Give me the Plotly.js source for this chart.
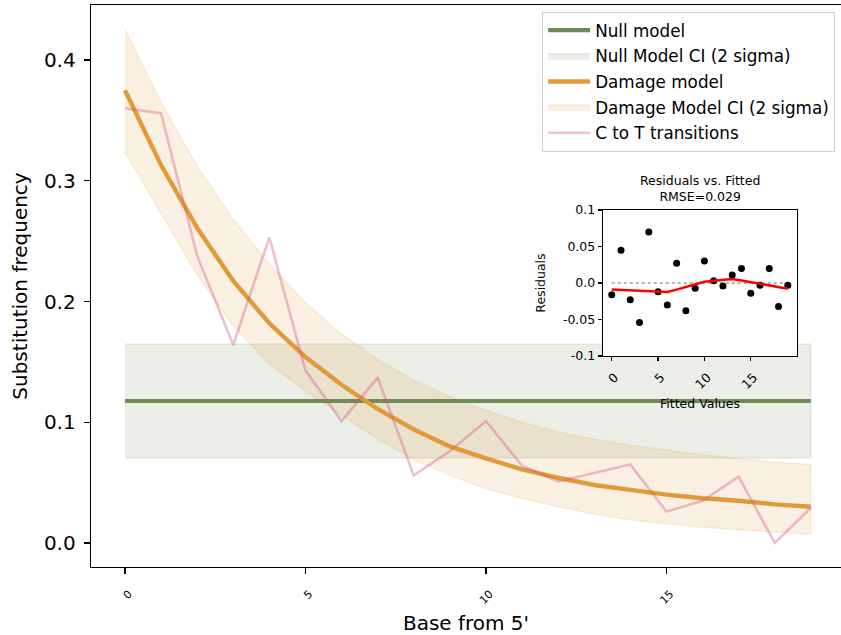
<!DOCTYPE html>
<html>
<head>
<meta charset="utf-8">
<script src="https://cdn.plot.ly/plotly-3.0.1.min.js"></script>
<style>html,body{margin:0;padding:0;background:#fff}</style>
</head>
<body>
<div id="chart" style="width:841px;height:635px"></div>
<script>
// ---- data ----
const positions = [0,1,2,3,4,5,6,7,8,9,10,11,12,13,14,15,16,17,18,19];
const nullMean = 0.1176;
const nullUpperValue = 0.1648;
const nullLowerValue = 0.0704;
const damageModel = [0.375,0.313,0.261,0.217,0.182,0.154,0.131,0.111,0.094,0.080,0.070,0.061,0.054,0.048,0.044,0.040,0.037,0.035,0.032,0.030];
const damageUpper = [0.425,0.365,0.312,0.268,0.231,0.199,0.173,0.152,0.135,0.121,0.110,0.100,0.092,0.086,0.081,0.077,0.073,0.070,0.067,0.065];
const damageLower = [0.324,0.273,0.222,0.180,0.148,0.126,0.106,0.086,0.069,0.056,0.045,0.037,0.030,0.024,0.019,0.016,0.013,0.011,0.009,0.007];
const cToT = [0.360,0.356,0.238,0.164,0.253,0.143,0.101,0.137,0.056,0.076,0.101,0.064,0.051,0.058,0.065,0.026,0.035,0.055,0.000,0.029];
const residuals = [-0.016,0.045,-0.023,-0.054,0.070,-0.012,-0.030,0.027,-0.038,-0.007,0.030,0.003,-0.004,0.011,0.020,-0.014,-0.003,0.020,-0.032,-0.003];
const lowess = [-0.009,-0.0095,-0.010,-0.0105,-0.011,-0.0115,-0.0124,-0.009,-0.0053,-0.0018,0.0018,0.003,0.0045,0.0055,0.0035,0.0013,-0.001,-0.0035,-0.0057,-0.0078];
const zeroRef = positions.map(() => 0);
const mainTicks = [0,5,10,15];
const mainYTicks = [0.0,0.1,0.2,0.3,0.4];
const insetYTicks = [-0.1,-0.05,0,0.05,0.1];
const insetYTickText = ['-0.1','-0.05','0.0','0.05','0.1'];

// ---- styles ----
const FONT = 'DejaVu Sans, Verdana, sans-serif';
const GREEN = '#6e8a52';
const ORANGE = '#e09a38';
const PINK = 'rgba(210,90,130,0.38)';

const nullMeanArr = positions.map(() => nullMean);
const nullUp = positions.map(() => nullUpperValue);
const nullLo = positions.map(() => nullLowerValue);
const revPos = positions.slice().reverse();

const traces = [
  {x: positions.concat(revPos), y: nullUp.concat(nullLo.slice().reverse()),
   type:'scatter', mode:'lines', fill:'toself', fillcolor:'rgba(110,138,82,0.14)',
   line:{color:'rgba(110,138,82,0.14)', width:1.5}, name:'Null Model CI (2 sigma)',
   legendrank:2, legendgroup:'b', hoverinfo:'skip'},
  {x: positions.concat(revPos), y: damageUpper.concat(damageLower.slice().reverse()),
   type:'scatter', mode:'lines', fill:'toself', fillcolor:'rgba(224,154,56,0.15)',
   line:{color:'rgba(224,154,56,0.15)', width:1.5}, name:'Damage Model CI (2 sigma)',
   legendrank:4, legendgroup:'d', hoverinfo:'skip'},
  {x: positions, y: nullMeanArr, type:'scatter', mode:'lines',
   line:{color:GREEN, width:4.2}, name:'Null model', legendrank:1, legendgroup:'a'},
  {x: positions, y: damageModel, type:'scatter', mode:'lines',
   line:{color:ORANGE, width:4.4}, name:'Damage model', legendrank:3, legendgroup:'c'},
  {x: positions, y: cToT, type:'scatter', mode:'lines',
   line:{color:PINK, width:2.6}, name:'C to T transitions', legendrank:5, legendgroup:'e'},
  // inset
  {x: positions, y: zeroRef, xaxis:'x2', yaxis:'y2', type:'scatter', mode:'lines',
   line:{color:'#b5b5b5', width:2, dash:'dot'}, showlegend:false},
  {x: positions, y: residuals, xaxis:'x2', yaxis:'y2', type:'scatter', mode:'markers',
   marker:{color:'#000', size:7}, showlegend:false},
  {x: positions, y: lowess, xaxis:'x2', yaxis:'y2', type:'scatter', mode:'lines',
   line:{color:'#ff0000', width:2.5}, showlegend:false}
];

const mainXRange = [-0.94, 19.836];
const mainYRange = [-0.0199, 0.4456];
const insetXRange = [-0.94, 19.99];
const insetYRange = [-0.1, 0.1];

const layout = {
  width:841, height:635,
  margin:{l:91, r:0, t:5, b:68, pad:0},
  paper_bgcolor:'#fff', plot_bgcolor:'rgba(0,0,0,0)',
  font:{family:FONT, color:'#000'},
  showlegend:true,
  legend:{x:0.6015, y:0.988, xanchor:'left', yanchor:'top', font:{family:FONT, size:16.8, color:'#000'},
    bgcolor:'rgba(255,255,255,0.8)', bordercolor:'#d0d0d0', borderwidth:1,
    traceorder:'grouped', tracegroupgap:0.8, itemwidth:42},
  xaxis:{domain:[0,1], range:mainXRange, tickvals:mainTicks, ticktext:mainTicks.map(String),
    tickangle:-45, tickfont:{size:11}, ticks:'outside', ticklen:6, tickwidth:1.2, tickcolor:'#000',
    ticklabelstandoff:9, ticklabelshift:4,
    showline:true, linecolor:'#000', linewidth:1.3, mirror:true, showgrid:false, zeroline:false,
    title:{text:"Base from 5'", font:{size:20}, standoff:12}},
  yaxis:{domain:[0,1], range:mainYRange, tickvals:mainYTicks, ticktext:mainYTicks.map(v=>v.toFixed(1)),
    tickfont:{size:20}, ticks:'outside', ticklen:6, tickwidth:1.2, tickcolor:'#000', ticklabelstandoff:4,
    showline:true, linecolor:'#000', linewidth:1.3, mirror:false, showgrid:false, zeroline:false,
    title:{text:'Substitution frequency', font:{size:20}, standoff:11}},
  xaxis2:{domain:[0.6827,0.9413], anchor:'y2', range:insetXRange, tickvals:mainTicks, ticktext:mainTicks.map(String),
    tickangle:-45, tickfont:{size:12.5}, ticks:'outside', ticklen:4, tickwidth:1.2, tickcolor:'#000',
    ticklabelstandoff:4, ticklabelshift:3,
    showline:true, linecolor:'#000', linewidth:1.3, mirror:true, showgrid:false, zeroline:false,
    title:{text:'Fitted Values', font:{size:12.5}, standoff:8}},
  yaxis2:{domain:[0.3754,0.6352], anchor:'x2', range:insetYRange, tickvals:insetYTicks, ticktext:insetYTickText,
    tickfont:{size:12.5}, ticks:'outside', ticklen:4, tickwidth:1.2, tickcolor:'#000',
    showline:true, linecolor:'#000', linewidth:1.3, mirror:true, showgrid:false, zeroline:false,
    title:{text:'Residuals', font:{size:12.5}, standoff:14}},
  shapes:[
    {type:'rect', xref:'x2', yref:'y2', x0:insetXRange[0], x1:insetXRange[1], y0:insetYRange[0], y1:insetYRange[1],
     fillcolor:'#ffffff', line:{width:0}, layer:'below'}
  ],
  annotations:[
    {xref:'paper', yref:'paper', x:0.812, y:0.642, xanchor:'center', yanchor:'bottom', showarrow:false,
     text:'Residuals vs. Fitted<br>RMSE=0.029', font:{size:12.5, family:FONT, color:'#000'}}
  ]
};

Plotly.newPlot('chart', traces, layout, {displayModeBar:false, staticPlot:true});
</script>
</body>
</html>
